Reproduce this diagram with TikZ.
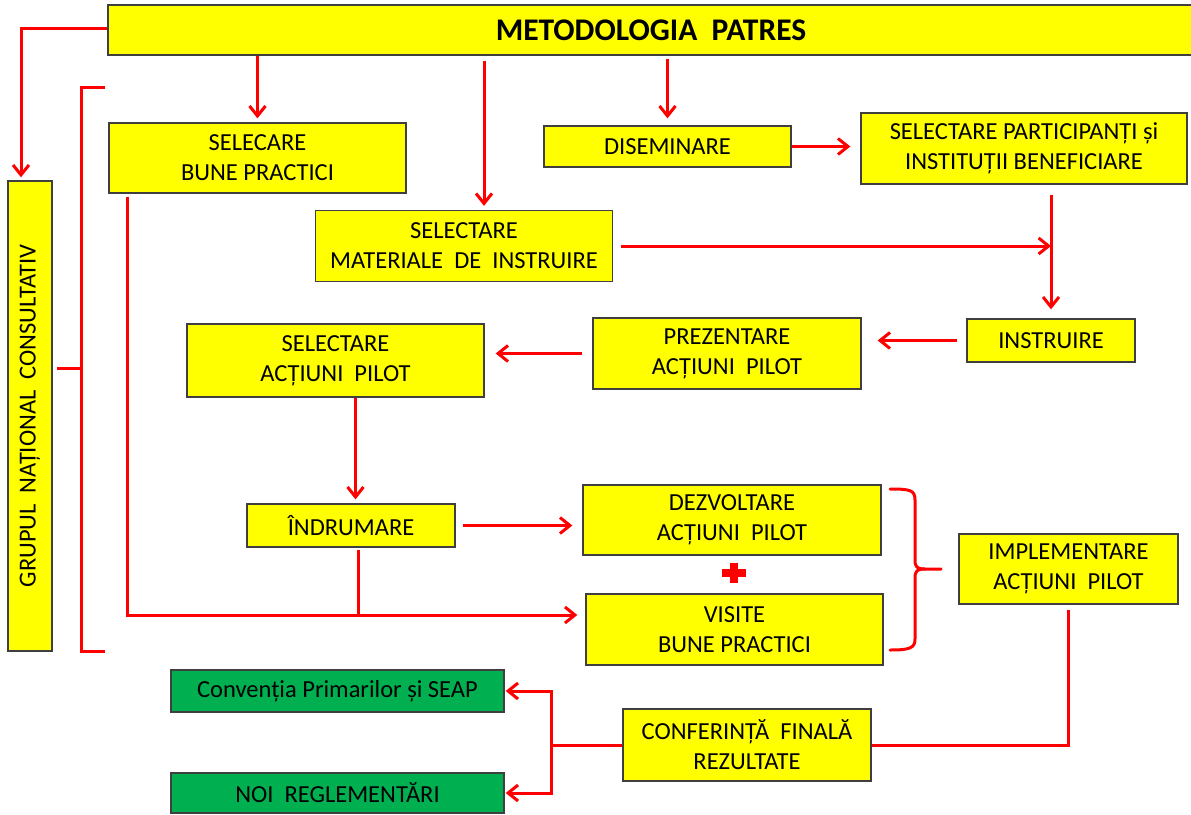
\documentclass[tikz,border=0pt]{standalone}
\usepackage{fontspec}
\setmainfont{Carlito}
\usetikzlibrary{arrows.meta}
\definecolor{boxyellow}{HTML}{FFFF00}
\definecolor{boxgreen}{HTML}{00B050}
\definecolor{linered}{HTML}{FF0000}
\definecolor{boxborder}{HTML}{3F3F3F}
\begin{document}
\begin{tikzpicture}[x=1pt,y=-1pt,
  box/.style={draw=boxborder, line width=1.3pt, fill=boxyellow, inner sep=0pt, align=center,
    font=\fontsize{24.5}{30}\selectfont, text=black},
  twoline/.style={box, execute at begin node={\rule{0pt}{23pt}}},
  gbox/.style={box, fill=boxgreen},
  rl/.style={draw=linered, line width=3pt},
  arr/.style={rl, -{Straight Barb[length=10pt,width=16pt]}},
  brace/.style={rl, line join=round, line cap=round}]
\useasboundingbox (0,0) rectangle (1191,814);

% nodes
\node[box, minimum width=1086pt, minimum height=50pt, font=\fontsize{31.5}{36}\selectfont\bfseries] (title) at (651,30) {METODOLOGIA~ PATRES};
\node[box, rotate=90, minimum width=470pt, minimum height=44pt] (grupul) at (30,416) {GRUPUL~ NAȚIONAL~ CONSULTATIV};
\node[twoline, minimum width=297pt, minimum height=70pt] (bune) at (257.5,158) {SELECARE\\BUNE PRACTICI};
\node[twoline, minimum width=297pt, minimum height=71pt] (mat) at (464,246) {SELECTARE\\MATERIALE~ DE~ INSTRUIRE};
\node[box, minimum width=247pt, minimum height=41pt] (dis) at (667.5,146.5) {DISEMINARE};
\node[twoline, minimum width=326pt, minimum height=71pt] (part) at (1024,148.5) {SELECTARE PARTICIPANȚI și\\INSTITUȚII BENEFICIARE};
\node[box, minimum width=168pt, minimum height=43pt] (instr) at (1051,340.5) {INSTRUIRE};
\node[twoline, minimum width=268pt, minimum height=71pt] (prez) at (727,353.5) {PREZENTARE\\ACȚIUNI~ PILOT};
\node[twoline, minimum width=297pt, minimum height=73pt] (selap) at (335.5,360.5) {SELECTARE\\ACȚIUNI~ PILOT};
\node[box, minimum width=208pt, minimum height=43pt] (indr) at (351,525.5) {ÎNDRUMARE};
\node[twoline, minimum width=298pt, minimum height=70pt] (dezv) at (732,520) {DEZVOLTARE\\ACȚIUNI~ PILOT};
\node[twoline, minimum width=297pt, minimum height=71pt] (vis) at (734.5,629.5) {VISITE\\BUNE PRACTICI};
\node[twoline, minimum width=219pt, minimum height=70pt] (impl) at (1068.5,569) {IMPLEMENTARE\\ACȚIUNI~ PILOT};
\node[twoline, minimum width=248pt, minimum height=72pt] (conf) at (747,745) {CONFERINȚĂ~ FINALĂ\\REZULTATE};
\node[gbox, minimum width=333pt, minimum height=42pt] (conv) at (337.5,691) {Convenția Primarilor și SEAP};
\node[gbox, minimum width=333pt, minimum height=40pt] (noi) at (337.5,793) {NOI~ REGLEMENTĂRI};

% title to grupul
\draw[arr] ([yshift=2pt]title.west) -| ([xshift=-9pt,yshift=3pt]grupul.east);
% left bracket
\draw[rl] (105,87) -- (81,87) -- (81,651) -- (105,651);
\draw[rl] (57,368) -- (81,368);

% title to boxes
\draw[arr] (title.south -| bune.north) -- ([yshift=4pt]bune.north);
\coordinate (m1) at ([xshift=20pt]mat.north);
\draw[arr, shorten <=5pt] (title.south -| m1) -- ([yshift=4pt]m1);
\draw[arr, shorten <=3pt] (title.south -| dis.north) -- ([yshift=7pt]dis.north);

% right column
\draw[arr, shorten >=10pt] (dis.east) -- (dis.east -| part.west);
\draw[arr, shorten <=10pt, shorten >=9pt] (part.south -| instr.north) -- (instr.north);
\draw[arr, shorten <=8pt] (mat.east) -- (mat.east -| instr.north);
\draw[arr, shorten <=9pt, shorten >=16pt] (instr.west) -- (instr.west -| prez.east);
\draw[arr, shorten <=10pt, shorten >=11pt] (prez.west) -- (prez.west -| selap.east);

% middle
\coordinate (s1) at ([xshift=20pt]selap.south);
\draw[arr, shorten >=4pt] (s1) -- (s1 |- indr.north);
\draw[arr, shorten <=7pt, shorten >=10pt] (indr.east) -- (indr.east -| dezv.west);
\coordinate (b1) at ([xshift=-130.5pt]bune.south);
\coordinate (v1) at ([yshift=14.5pt]vis.west);
\draw[arr, shorten <=3pt, shorten >=8pt] (b1) |- (v1);
\coordinate (i1) at ([xshift=7pt]indr.south);
\draw[rl, shorten <=2pt] (i1) -- (i1 |- v1);

% plus sign
\fill[linered] (722,569) rectangle (746,577);
\fill[linered] (730,563) rectangle (738,583);

% right brace
\draw[brace] (890,489) .. controls (910,489) and (915,490) .. (915,500) -- (915,560)
  .. controls (915,567) and (917,569) .. (925,569) -- (941,569);
\draw[brace] (925,569) .. controls (917,569) and (915,571) .. (915,578) -- (915,639)
  .. controls (915,648) and (910,650) .. (890,650);

% bottom
\draw[rl, shorten <=5pt] (impl.south) |- (conf.east);
\coordinate (k) at ([xshift=-71pt]conf.west);
\draw[rl] (conf.west) -- (k);
\draw[arr, shorten >=1pt] (k) |- (conv.east);
\draw[arr, shorten >=1pt] (k) |- (noi.east);
\end{tikzpicture}
\end{document}
